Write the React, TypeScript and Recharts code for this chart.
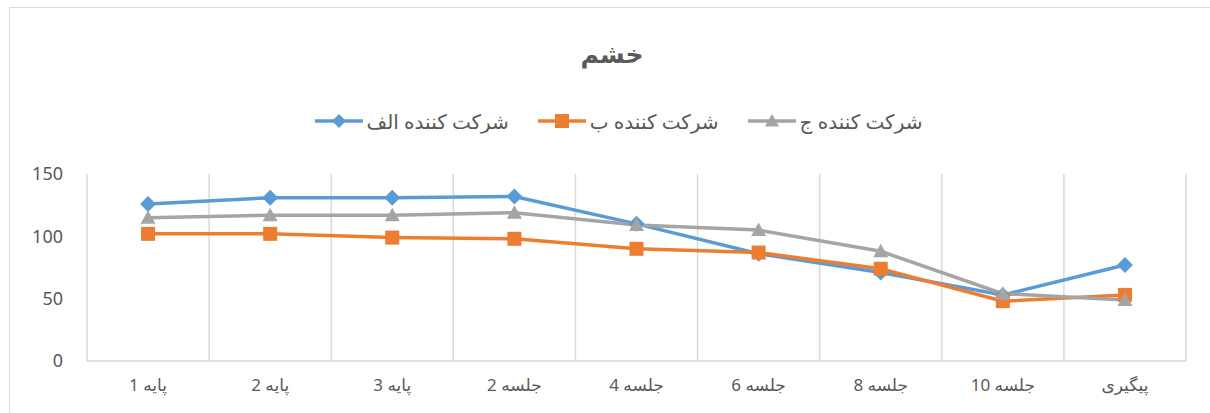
import React from 'react';
import { CartesianGrid, Legend, Line, LineChart, XAxis, YAxis } from 'recharts';

const categories = ['پایه 1', 'پایه 2', 'پایه 3', 'جلسه 2', 'جلسه 4', 'جلسه 6', 'جلسه 8', 'جلسه 10', 'پیگیری'];
const seriesAlef = [126, 131, 131, 132, 110, 86, 71, 53, 77];
const seriesBe = [102, 102, 99, 98, 90, 87, 74, 48, 53];
const seriesJim = [115, 117, 117, 119, 109, 105, 88, 54, 49];
const yTicks = [0, 50, 100, 150];

const seriesNames = ['شرکت کننده الف', 'شرکت کننده ب', 'شرکت کننده ج'];
const colors = ['#5B9BD5', '#ED7D31', '#A5A5A5'];

const data = categories.map((name, i) => ({
  name,
  alef: seriesAlef[i],
  be: seriesBe[i],
  jim: seriesJim[i],
}));

const W = 1210;
const H = 413;
const margin = { top: 108, right: 24, bottom: 22, left: 10 };
const yAxisWidth = 77;
const plotWidth = W - margin.left - margin.right - yAxisWidth;
const halfBand = plotWidth / categories.length / 2;

const FONT = '"Noto Sans", "DejaVu Sans", sans-serif';
const TEXT = '#595959';

// category boundaries for the vertical gridlines (Excel style, between categories)
const boundaryLines = ({ offset }: any) =>
  Array.from({ length: categories.length + 1 }, (_, i) => offset.left + (i * offset.width) / categories.length);

const Diamond = ({ cx, cy, color, r = 8 }: any) =>
  cx == null ? null : (
    <path d={`M${cx},${cy - r}L${cx + r},${cy}L${cx},${cy + r}L${cx - r},${cy}Z`} fill={color} />
  );

const Square = ({ cx, cy, color, r = 7 }: any) =>
  cx == null ? null : <rect x={cx - r} y={cy - r} width={r * 2} height={r * 2} fill={color} />;

const Triangle = ({ cx, cy, color, r = 7.5 }: any) =>
  cx == null ? null : (
    <path d={`M${cx},${cy - r}L${cx + r},${cy + r * 0.8}L${cx - r},${cy + r * 0.8}Z`} fill={color} />
  );

const markers = [Diamond, Square, Triangle];

const LegendContent = () => (
  <div
    style={{
      height: 66,
      display: 'flex',
      justifyContent: 'center',
      alignItems: 'flex-start',
      paddingLeft: 40,
      boxSizing: 'border-box',
      fontFamily: FONT,
    }}
  >
    {seriesNames.map((n, i) => {
      const M = markers[i];
      return (
        <div key={n} style={{ display: 'flex', alignItems: 'center', margin: '0 14px', height: 26 }}>
          <svg width={50} height={18}>
            <line x1={1} x2={49} y1={9} y2={9} stroke={colors[i]} strokeWidth={3.5} />
            <M cx={25} cy={9} color={colors[i]} r={7} />
          </svg>
          <span style={{ direction: 'rtl', fontSize: 20, color: TEXT, marginLeft: 3 }}>{n}</span>
        </div>
      );
    })}
  </div>
);

const XTick = ({ x, y, payload }: any) => (
  <text
    x={x}
    y={y}
    dy={16}
    textAnchor="middle"
    direction="rtl"
    fill={TEXT}
    fontSize={17}
    letterSpacing={1.5}
    fontFamily={FONT}
  >
    {payload.value}
  </text>
);

export default function App() {
  return (
    <div style={{ position: 'absolute', left: 0, top: 0, width: W, height: H, overflow: 'hidden', background: '#fff' }}>
      <div
        style={{
          position: 'absolute',
          left: 9,
          top: 7,
          width: W + 20,
          height: H + 20,
          border: '1.5px solid #d9d9d9',
        }}
      />
      <div
        style={{
          position: 'absolute',
          left: 0,
          width: W + 14,
          top: 36,
          textAlign: 'center',
          fontFamily: FONT,
          fontWeight: 'bold',
          fontSize: 25,
          color: TEXT,
        }}
      >
        خشم
      </div>
      <LineChart width={W} height={H} data={data} margin={margin} style={{ position: 'absolute', left: 0, top: 0 }}>
        <CartesianGrid
          horizontal={false}
          verticalCoordinatesGenerator={boundaryLines}
          stroke="#d9d9d9"
          strokeWidth={1.5}
        />
        <XAxis
          dataKey="name"
          padding={{ left: halfBand, right: halfBand }}
          tickLine={false}
          tick={<XTick />}
          tickMargin={8}
          stroke="#d9d9d9"
          strokeWidth={1.5}
          interval={0}
        />
        <YAxis
          width={yAxisWidth}
          domain={[0, 150]}
          ticks={yTicks}
          axisLine={false}
          tickLine={false}
          tickSize={0}
          tickMargin={24}
          tick={{ fill: TEXT, fontSize: 18, fontFamily: FONT }}
        />
        <Legend verticalAlign="top" align="center" content={<LegendContent />} />
        <Line
          dataKey="alef"
          name={seriesNames[0]}
          stroke={colors[0]}
          strokeWidth={3.5}
          dot={(p: any) => <Diamond key={p.index} cx={p.cx} cy={p.cy} color={colors[0]} />}
          isAnimationActive={false}
        />
        <Line
          dataKey="be"
          name={seriesNames[1]}
          stroke={colors[1]}
          strokeWidth={3.5}
          dot={(p: any) => <Square key={p.index} cx={p.cx} cy={p.cy} color={colors[1]} />}
          isAnimationActive={false}
        />
        <Line
          dataKey="jim"
          name={seriesNames[2]}
          stroke={colors[2]}
          strokeWidth={3.5}
          dot={(p: any) => <Triangle key={p.index} cx={p.cx} cy={p.cy} color={colors[2]} />}
          isAnimationActive={false}
        />
      </LineChart>
    </div>
  );
}
